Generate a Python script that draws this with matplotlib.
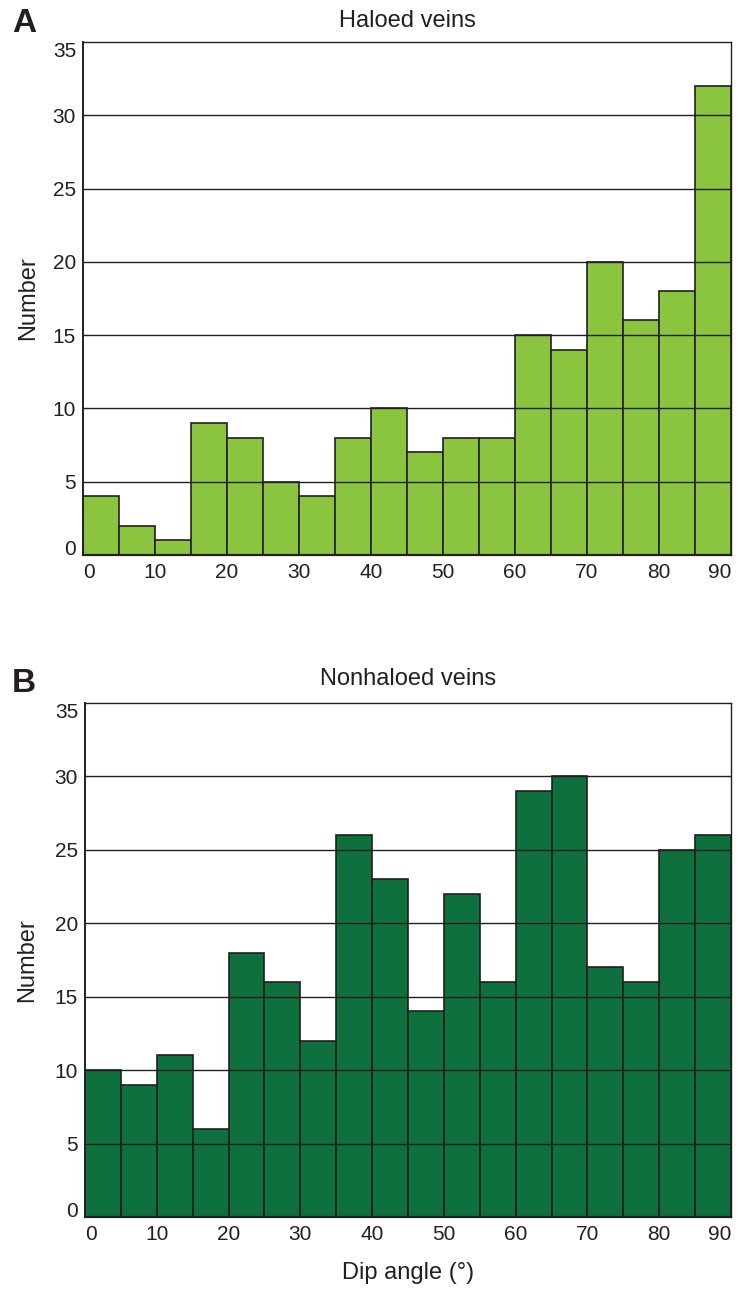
import matplotlib
matplotlib.use("Agg")
import matplotlib.pyplot as plt
import numpy as np

plt.rcParams['font.family'] = ['Liberation Sans', 'DejaVu Sans']

bin_edges = list(range(0, 95, 5))
haloed = [4, 2, 1, 9, 8, 5, 4, 8, 10, 7, 8, 8, 15, 14, 20, 16, 18, 32]
nonhaloed = [10, 9, 11, 6, 18, 16, 12, 26, 23, 14, 22, 16, 29, 30, 17, 16, 25, 26]
xticks = list(range(0, 100, 10))
yticks = list(range(0, 40, 5))
titles = ["Haloed veins", "Nonhaloed veins"]
panel_labels = ["A", "B"]
colors = ["#8BC53F", "#0E703C"]

W, H = 738, 1289
fig = plt.figure(figsize=(W / 100, H / 100), dpi=100)

# axes positions in pixels: left, top, right, bottom
boxes = [(83, 42, 731, 555), (85, 703, 731, 1217)]
title_pads = [11, 13]
ylabel_x = [39, 38]
datasets = [haloed, nonhaloed]
txt = '#231f20'

for i, (box, data) in enumerate(zip(boxes, datasets)):
    l, t, r, b = box
    ax = fig.add_axes([l / W, 1 - b / H, (r - l) / W, (b - t) / H])
    left = np.array(bin_edges[:-1])
    ax.bar(left, data, width=5, align='edge', color=colors[i],
           edgecolor='#231f20', linewidth=1.2, zorder=2)
    for y in yticks[1:-1]:
        ax.axhline(y, color='#231f20', linewidth=1.0, zorder=3)
    ax.set_xlim(0, 90)
    ax.set_ylim(0, 35)
    ax.set_xticks(xticks)
    ax.set_yticks(yticks)
    ax.tick_params(length=0, labelsize=15, colors=txt)
    ax.tick_params(axis='x', pad=6)
    ax.tick_params(axis='y', pad=5)
    xl = ax.get_xticklabels()
    xl[0].set_ha('left')
    xl[-1].set_ha('right')
    yl = ax.get_yticklabels()
    yl[0].set_va('baseline')
    yl[-1].set_va('top')
    for s in ax.spines.values():
        s.set_color('#231f20')
        s.set_linewidth(1.0)
        s.set_zorder(4)
    ax.spines['bottom'].set_linewidth(1.6)
    ax.spines['left'].set_linewidth(1.4)
    ax.set_ylabel("Number", fontsize=17, color=txt)
    ax.yaxis.set_label_coords((ylabel_x[i] - l) / (r - l), 0.5)
    ax.set_title(titles[i], fontsize=17, color=txt, pad=title_pads[i])
    fig.text(12 / W, 1 - (t - 19) / H, panel_labels[i], fontsize=24,
             fontweight='bold', color=txt, va='center', ha='left')
    if i == 1:
        ax.set_xlabel("Dip angle (°)", fontsize=17, color=txt)
        ax.xaxis.set_label_coords(0.5, -(1262 - b) / (b - t))

fig.savefig("out.png", dpi=100)
